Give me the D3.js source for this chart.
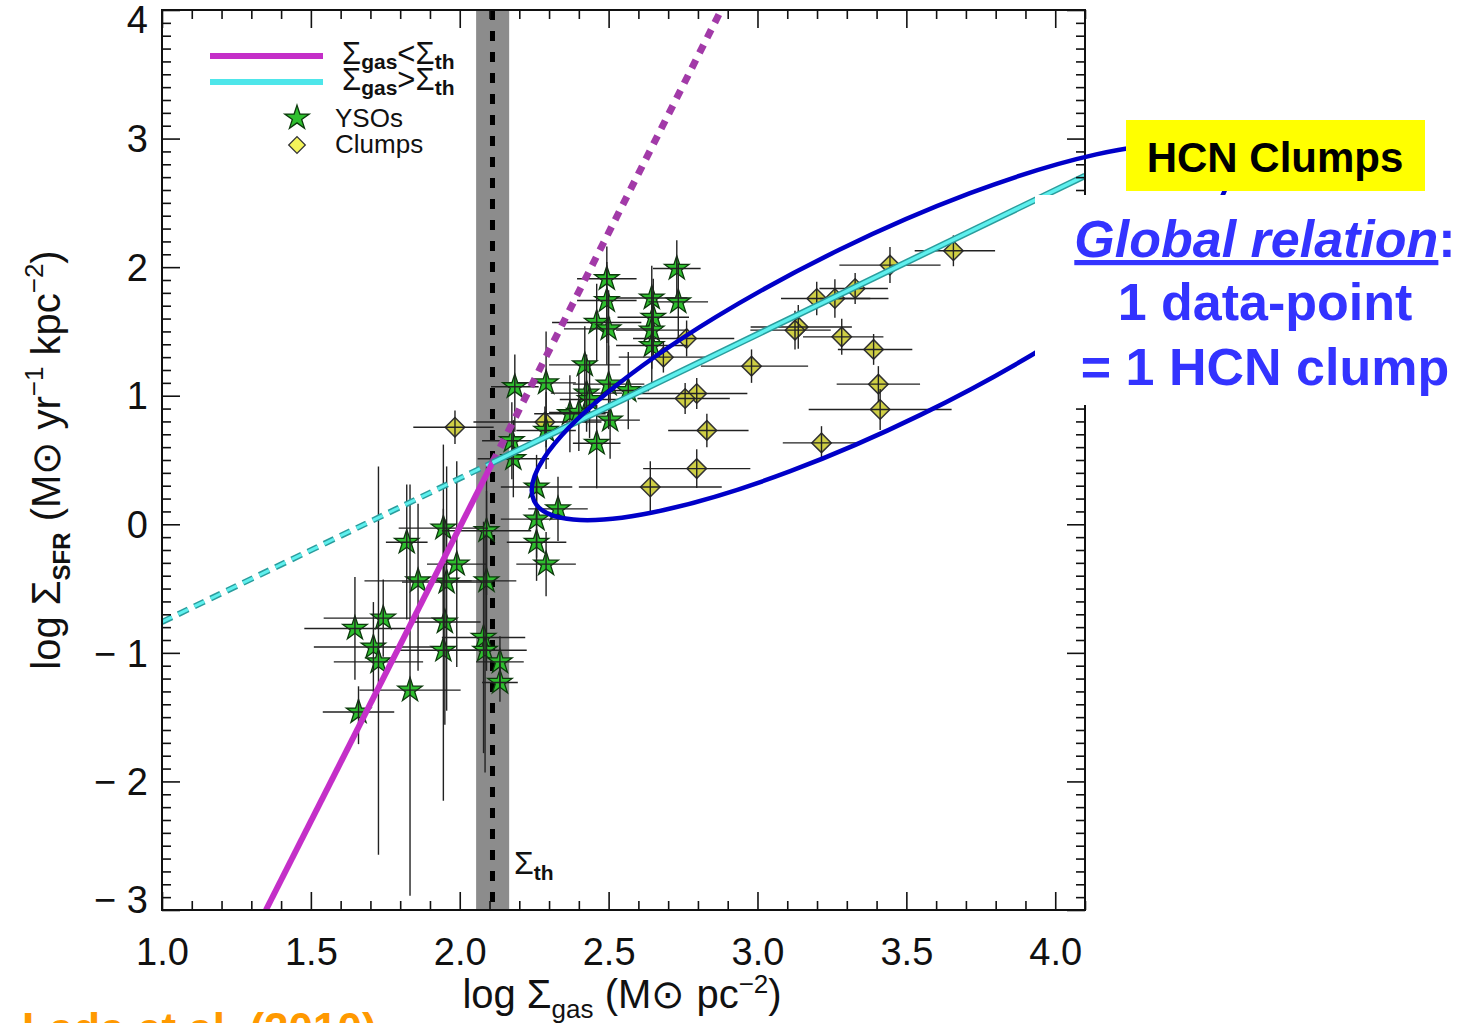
<!DOCTYPE html>
<html>
<head>
<meta charset="utf-8">
<script src="https://cdn.jsdelivr.net/npm/d3@7"></script>
<style>
body { margin: 0; background: #fff; }
svg { display: block; }
text { font-family: "Liberation Sans", Arial, sans-serif; }
</style>
</head>
<body>
<div id="chart"></div>
<script>
// YSO points: log Sigma_gas, log Sigma_SFR and their error bars (dex)
var ysoX    = [1.648, 1.743, 1.710, 1.727, 1.833, 1.660, 1.822, 1.860, 1.945, 1.956, 1.990, 1.950, 1.945, 2.090, 2.090, 2.080, 2.085, 2.135, 2.135, 2.258, 2.258, 2.290, 2.175, 2.180, 2.258, 2.330, 2.185, 2.290, 2.290, 2.370, 2.426, 2.460, 2.400, 2.505, 2.500, 2.566, 2.420, 2.460, 2.500, 2.494, 2.494, 2.645, 2.650, 2.645, 2.645, 2.729, 2.734, 2.436];
var ysoY    = [-0.81, -0.73, -0.955, -1.07, -1.29, -1.46, -0.14, -0.44, -0.03, -0.45, -0.31, -0.76, -0.98, -0.05, -0.44, -0.88, -0.98, -1.07, -1.23, 0.04, -0.14, -0.31, 0.65, 0.51, 0.29, 0.12, 1.07, 1.10, 0.73, 0.86, 1.02, 0.63, 0.87, 0.81, 1.09, 1.04, 1.24, 1.57, 1.52, 1.74, 1.91, 1.76, 1.61, 1.51, 1.39, 1.99, 1.73, 0.97];
var ysoEx   = [0.17, 0.20, 0.20, 0.15, 0.17, 0.12, 0.07, 0.18, 0.15, 0.15, 0.10, 0.12, 0.15, 0.15, 0.10, 0.14, 0.14, 0.08, 0.06, 0.12, 0.10, 0.10, 0.10, 0.12, 0.12, 0.10, 0.08, 0.10, 0.10, 0.12, 0.12, 0.08, 0.10, 0.10, 0.12, 0.07, 0.12, 0.15, 0.15, 0.10, 0.10, 0.12, 0.12, 0.12, 0.12, 0.08, 0.10, 0.10];
var ysoEyLo = [0.40, 0.30, 0.35, 1.50, 1.60, 0.25, 0.60, 0.70, 0.70, 1.00, 0.80, 0.80, 1.17, 0.50, 0.70, 0.90, 0.95, 0.20, 0.15, 0.30, 0.30, 0.25, 0.30, 0.30, 0.25, 0.25, 0.35, 0.50, 0.30, 0.30, 0.30, 0.35, 0.30, 0.30, 0.35, 0.30, 0.35, 0.30, 0.35, 0.50, 0.50, 0.50, 0.30, 0.30, 0.30, 0.22, 0.30, 0.30];
var ysoEyHi = [0.40, 0.30, 0.35, 1.52, 1.60, 0.20, 0.45, 0.60, 0.65, 0.90, 0.80, 0.80, 1.10, 0.50, 0.70, 0.90, 0.90, 0.20, 0.15, 0.30, 0.30, 0.25, 0.30, 0.30, 0.25, 0.25, 0.25, 0.40, 0.30, 0.30, 0.30, 0.30, 0.30, 0.30, 0.30, 0.30, 0.30, 0.30, 0.30, 0.30, 0.25, 0.25, 0.30, 0.30, 0.30, 0.22, 0.30, 0.30];

// HCN clumps
var clumpX    = [3.658, 3.445, 3.199, 3.260, 3.328, 3.137, 3.126, 3.283, 3.390, 2.980, 3.406, 3.412, 3.215, 2.796, 2.757, 2.830, 2.796, 2.640, 2.762, 2.684, 2.286, 1.984];
var clumpY    = [2.127, 2.016, 1.756, 1.756, 1.834, 1.535, 1.510, 1.458, 1.360, 1.230, 1.090, 0.893, 0.633, 1.017, 0.978, 0.730, 0.433, 0.290, 1.445, 1.300, 0.796, 0.755];
var clumpExLo = [0.13, 0.17, 0.12, 0.05, 0.12, 0.16, 0.15, 0.13, 0.12, 0.17, 0.14, 0.24, 0.13, 0.20, 0.16, 0.13, 0.18, 0.24, 0.18, 0.15, 0.24, 0.14];
var clumpExHi = [0.14, 0.17, 0.18, 0.18, 0.11, 0.18, 0.12, 0.14, 0.13, 0.19, 0.14, 0.24, 0.12, 0.17, 0.15, 0.14, 0.18, 0.24, 0.16, 0.15, 0.19, 0.13];
var clumpEy   = [0.12, 0.14, 0.13, 0.15, 0.12, 0.17, 0.15, 0.14, 0.12, 0.13, 0.14, 0.16, 0.13, 0.12, 0.12, 0.13, 0.15, 0.20, 0.14, 0.12, 0.12, 0.13];

// threshold and fitted relations (end points)
var sigmaTh = 2.11;
var thBand = [2.055, 2.166];
var fitBelow    = [[1.349, -3.0], [2.11, 0.48]];
var fitBelowExt = [[2.11, 0.48], [2.878, 4.0]];
var fitAbove    = [[2.11, 0.48], [4.10, 2.71]];
var fitAboveExt = [[1.00, -0.76], [2.11, 0.48]];

var xMajor = [1.0, 1.5, 2.0, 2.5, 3.0, 3.5, 4.0];
var yMajor = [-3, -2, -1, 0, 1, 2, 3, 4];

var width = 1479, height = 1023;
var L = 162, R = 1085, T = 10, B = 910;

var svg = d3.select('#chart').append('svg')
	.attr('width', width)
	.attr('height', height);

var x = d3.scaleLinear().domain([1.0, 4.1]).range([L, R]);
var y = d3.scaleLinear().domain([-3, 4]).range([B, T]);

var xMinor = d3.range(10, 42).map(function(v) { return v / 10; }).filter(function(v) { return xMajor.indexOf(v) < 0; });
var yMinor = d3.range(-30, 41).map(function(v) { return v / 10; }).filter(function(v) { return v % 1 !== 0; });

var plot = svg.append('g');
svg.append('clipPath').attr('id', 'clip')
	.append('rect').attr('x', L).attr('y', T).attr('width', R - L).attr('height', B - T);

// threshold band + dashed line
plot.append('rect')
	.attr('x', x(thBand[0])).attr('y', T)
	.attr('width', x(thBand[1]) - x(thBand[0])).attr('height', B - T)
	.attr('fill', '#8c8c8c');
plot.append('line')
	.attr('x1', x(sigmaTh)).attr('x2', x(sigmaTh))
	.attr('y1', T).attr('y2', B)
	.attr('stroke', '#000').attr('stroke-width', 5)
	.attr('stroke-dasharray', '10,11');

// markers
var star = d3.symbol().type(d3.symbolStar).size(185);
var diamond = d3.symbol().type(d3.symbolSquare).size(190);

var yso = ysoX.map(function(d, i) { return {x: d, y: ysoY[i], ex: ysoEx[i], lo: ysoEyLo[i], hi: ysoEyHi[i]}; });
var clumps = clumpX.map(function(d, i) { return {x: d, y: clumpY[i], lo: clumpExLo[i], hi: clumpExHi[i], ey: clumpEy[i]}; });

var pts = plot.append('g').attr('clip-path', 'url(#clip)');

pts.selectAll('path.clump')
	.data(clumps).enter().append('path')
	.attr('class', 'clump')
	.attr('d', diamond)
	.attr('transform', function(d) { return 'translate(' + x(d.x) + ',' + y(d.y) + ') rotate(45)'; })
	.attr('fill', '#cfcf45').attr('stroke', '#333').attr('stroke-width', 1.5);

pts.selectAll('path.yso')
	.data(yso).enter().append('path')
	.attr('class', 'yso')
	.attr('d', star)
	.attr('transform', function(d) { return 'translate(' + x(d.x) + ',' + y(d.y) + ')'; })
	.attr('fill', '#2fbf2f').attr('stroke', '#0c3a0c').attr('stroke-width', 1.3);

// error bars drawn on top like the original
var bars = pts.append('g').attr('stroke', '#222').attr('stroke-width', 1.4);
yso.forEach(function(d) {
	bars.append('line').attr('x1', x(d.x - d.ex)).attr('x2', x(d.x + d.ex)).attr('y1', y(d.y)).attr('y2', y(d.y));
	bars.append('line').attr('x1', x(d.x)).attr('x2', x(d.x)).attr('y1', y(d.y - d.lo)).attr('y2', y(d.y + d.hi));
});
clumps.forEach(function(d) {
	bars.append('line').attr('x1', x(d.x - d.lo)).attr('x2', x(d.x + d.hi)).attr('y1', y(d.y)).attr('y2', y(d.y));
	bars.append('line').attr('x1', x(d.x)).attr('x2', x(d.x)).attr('y1', y(d.y - d.ey)).attr('y2', y(d.y + d.ey));
});

// fitted relations
var line = d3.line().x(function(d) { return x(d[0]); }).y(function(d) { return y(d[1]); });
var fits = plot.append('g').attr('clip-path', 'url(#clip)').attr('fill', 'none');
fits.append('path').attr('d', line(fitAboveExt)).attr('stroke', '#2a9d9d').attr('stroke-width', 6).attr('stroke-dasharray', '11,7');
fits.append('path').attr('d', line(fitAboveExt)).attr('stroke', '#5ef0ee').attr('stroke-width', 3).attr('stroke-dasharray', '11,7');
fits.append('path').attr('d', line(fitBelowExt)).attr('stroke', '#a23aa8').attr('stroke-width', 7).attr('stroke-dasharray', '9,8');
fits.append('path').attr('d', line(fitBelow)).attr('stroke', '#c42fc8').attr('stroke-width', 6);
fits.append('path').attr('d', line(fitAbove)).attr('stroke', '#2a9d9d').attr('stroke-width', 6.5);
fits.append('path').attr('d', line(fitAbove)).attr('stroke', '#5ef0ee').attr('stroke-width', 3.5);

// axes: long major ticks, short minor ticks on all four sides
function ticks(axis, vals, size, tr) {
	svg.append('g').attr('transform', tr)
		.call(axis.tickValues(vals).tickSize(-size).tickFormat(''))
		.call(function(g) { g.select('.domain').remove(); })
		.selectAll('line').attr('stroke', '#111').attr('stroke-width', 1.6);
}
ticks(d3.axisBottom(x), xMajor, 18, 'translate(0,' + B + ')');
ticks(d3.axisBottom(x), xMinor, 9, 'translate(0,' + B + ')');
ticks(d3.axisTop(x), xMajor, 18, 'translate(0,' + T + ')');
ticks(d3.axisTop(x), xMinor, 9, 'translate(0,' + T + ')');
ticks(d3.axisLeft(y), yMajor, 18, 'translate(' + L + ',0)');
ticks(d3.axisLeft(y), yMinor, 9, 'translate(' + L + ',0)');
ticks(d3.axisRight(y), yMajor, 18, 'translate(' + R + ',0)');
ticks(d3.axisRight(y), yMinor, 9, 'translate(' + R + ',0)');

svg.append('rect').attr('x', L).attr('y', T).attr('width', R - L).attr('height', B - T)
	.attr('fill', 'none').attr('stroke', '#111').attr('stroke-width', 2);

// tick labels
svg.append('g').attr('transform', 'translate(0,' + B + ')')
	.call(d3.axisBottom(x).tickValues(xMajor).tickSize(0).tickPadding(28).tickFormat(d3.format('.1f')))
	.call(function(g) { g.select('.domain').remove(); })
	.selectAll('text').attr('font-size', 38).attr('fill', '#111').style('font-family', '"Liberation Sans", Arial, sans-serif');
svg.append('g').attr('transform', 'translate(' + L + ',0)')
	.call(d3.axisLeft(y).tickValues(yMajor).tickSize(0).tickPadding(14)
		.tickFormat(function(d) { return d < 0 ? '\u2212 ' + Math.abs(d) : d; }))
	.call(function(g) { g.select('.domain').remove(); })
	.selectAll('text').attr('font-size', 38).attr('fill', '#111').style('font-family', '"Liberation Sans", Arial, sans-serif')
	// end labels sit inside the frame, as in the original
	.attr('y', function(d) { return d === 4 ? 10 : d === -3 ? -10 : 1; });

// axis titles
var xt = svg.append('text').attr('x', 622).attr('y', 1008).attr('text-anchor', 'middle').attr('font-size', 40).attr('fill', '#111');
xt.append('tspan').text('log \u03A3');
xt.append('tspan').attr('font-size', 26).attr('dy', 10).text('gas');
xt.append('tspan').attr('dy', -10).text(' (M\u2299 pc');
xt.append('tspan').attr('font-size', 26).attr('dy', -15).text('\u22122');
xt.append('tspan').attr('dy', 15).text(')');

var yt = svg.append('text').attr('transform', 'translate(60,460) rotate(-90)').attr('text-anchor', 'middle').attr('font-size', 40).attr('fill', '#111');
yt.append('tspan').text('log \u03A3');
yt.append('tspan').attr('font-size', 24).attr('dy', 10).attr('font-weight', 'bold').text('SFR');
yt.append('tspan').attr('dy', -10).text(' (M\u2299 yr');
yt.append('tspan').attr('font-size', 26).attr('dy', -17).text('\u22121');
yt.append('tspan').attr('dy', 17).text(' kpc');
yt.append('tspan').attr('font-size', 26).attr('dy', -17).text('\u22122');
yt.append('tspan').attr('dy', 17).text(')');

// threshold label
var th = svg.append('text').attr('x', 514).attr('y', 874).attr('font-size', 32).attr('fill', '#111');
th.append('tspan').text('\u03A3');
th.append('tspan').attr('font-size', 21).attr('dy', 6).attr('font-weight', 'bold').text('th');

// legend
var leg = svg.append('g');
leg.append('line').attr('x1', 210).attr('x2', 323).attr('y1', 56).attr('y2', 56).attr('stroke', '#c42fc8').attr('stroke-width', 6);
leg.append('line').attr('x1', 210).attr('x2', 323).attr('y1', 82).attr('y2', 82).attr('stroke', '#4ee6ea').attr('stroke-width', 6);
function sigmaRow(yy, op) {
	var t = leg.append('text').attr('x', 342).attr('y', yy).attr('font-size', 31).attr('fill', '#111');
	t.append('tspan').text('\u03A3');
	t.append('tspan').attr('font-size', 21).attr('dy', 5).attr('font-weight', 'bold').text('gas');
	t.append('tspan').attr('dy', -5).text(op + '\u03A3');
	t.append('tspan').attr('font-size', 21).attr('dy', 5).attr('font-weight', 'bold').text('th');
}
sigmaRow(64, '<');
sigmaRow(90, '>');
leg.append('path').attr('d', star).attr('transform', 'translate(297,118)').attr('fill', '#2fbf2f').attr('stroke', '#0c3a0c').attr('stroke-width', 1.3);
leg.append('path').attr('d', diamond).attr('transform', 'translate(297,145) rotate(45) scale(0.85)').attr('fill', '#f5f55a').attr('stroke', '#333').attr('stroke-width', 1.5);
leg.append('text').attr('x', 335).attr('y', 127).attr('font-size', 26).attr('fill', '#111').text('YSOs');
leg.append('text').attr('x', 335).attr('y', 153).attr('font-size', 26).attr('fill', '#111').text('Clumps');

// slide annotation: ellipse round the clumps, labels
svg.append('ellipse')
	.attr('cx', 0).attr('cy', 0).attr('rx', 385).attr('ry', 92)
	.attr('transform', 'translate(' + x(3.412) + ',' + y(1.494) + ') rotate(-26)')
	.attr('fill', 'none').attr('stroke', '#0000c8').attr('stroke-width', 4.5);

svg.append('rect').attr('x', 1126).attr('y', 120).attr('width', 299).attr('height', 71).attr('fill', '#ffff00');
svg.append('text').attr('x', 1275).attr('y', 172).attr('text-anchor', 'middle')
	.attr('font-size', 42).attr('font-weight', 'bold').attr('fill', '#000').text('HCN Clumps');

svg.append('rect').attr('x', 1035).attr('y', 195).attr('width', 444).attr('height', 210).attr('fill', '#fff');
var g1 = svg.append('text').attr('x', 1265).attr('y', 257).attr('text-anchor', 'middle')
	.attr('font-size', 52).attr('font-weight', 'bold').attr('fill', '#3333ff');
g1.append('tspan').attr('font-style', 'italic').style('text-decoration', 'underline').text('Global relation');
g1.append('tspan').text(':');
svg.append('text').attr('x', 1265).attr('y', 320).attr('text-anchor', 'middle')
	.attr('font-size', 52).attr('font-weight', 'bold').attr('fill', '#3333ff').text('1 data-point');
svg.append('text').attr('x', 1265).attr('y', 385).attr('text-anchor', 'middle')
	.attr('font-size', 52).attr('font-weight', 'bold').attr('fill', '#3333ff').text('= 1 HCN clump');

// citation cut off at the bottom of the slide
svg.append('text').attr('x', 22).attr('y', 1044).attr('font-size', 44).attr('font-weight', 'bold')
	.attr('fill', '#ff9900').text('Lada et al. (2010)');
</script>
</body>
</html>
